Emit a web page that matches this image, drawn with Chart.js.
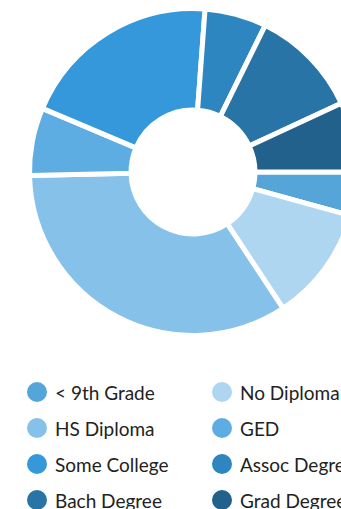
<!DOCTYPE html>
<html>
<head>
<meta charset="utf-8">
<script src="https://cdn.jsdelivr.net/npm/chart.js@4.4.0/dist/chart.umd.min.js"></script>
<style>
    body { margin: 0; background: #fff; overflow: hidden; }
    .wrap { width: 386px; }
    .chart-box { position: relative; width: 386px; height: 344px; }
    .legend {
        list-style: none;
        margin: 0;
        padding: 0 0 0 27px;
        position: absolute;
        top: 374px;
        left: 0;
        width: 400px;
        display: grid;
        grid-template-columns: 185px 185px;
        grid-auto-rows: 36px;
        font-family: 'Lato', 'Noto Sans', sans-serif;
        font-size: 19px;
        color: #222;
    }
    .legend li { display: flex; align-items: center; white-space: nowrap; }
    .legend .dot {
        width: 20px; height: 20px; border-radius: 50%;
        margin-right: 8px; flex: none;
    }
</style>
</head>
<body>
<div class="wrap">
    <div class="chart-box"><canvas id="eduChart"></canvas></div>
    <ul class="legend" id="eduLegend"></ul>
</div>
<script>
// Educational attainment shares (percent)
const levels = ['< 9th Grade', 'No Diploma', 'HS Diploma', 'GED', 'Some College', 'Assoc Degree', 'Bach Degree', 'Grad Degree'];
const shares = [4.3, 11.4, 33.9, 6.7, 19.8, 6.1, 10.8, 6.9];
const colors = ['#55a5d9', '#aed6f1', '#85c1e9', '#5dade2', '#3498db', '#2e86c1', '#2874a6', '#21618c'];

const chart = new Chart(document.getElementById('eduChart'), {
    type: 'doughnut',
    data: {
        labels: levels,
        datasets: [{
            data: shares,
            backgroundColor: colors,
            borderColor: '#fff',
            borderWidth: 5,
            hoverOffset: 0
        }]
    },
    options: {
        responsive: true,
        maintainAspectRatio: false,
        animation: false,
        rotation: 90,
        cutout: '37.9%',
        layout: { padding: 6 },
        plugins: {
            legend: { display: false },
            tooltip: { enabled: false }
        }
    }
});

// Two-column legend built from the chart data
const legendEl = document.getElementById('eduLegend');
chart.data.labels.forEach((label, i) => {
    const li = document.createElement('li');
    li.innerHTML = `<span class="dot" style="background:${colors[i]}"></span>${label}`;
    legendEl.appendChild(li);
});
</script>
</body>
</html>
